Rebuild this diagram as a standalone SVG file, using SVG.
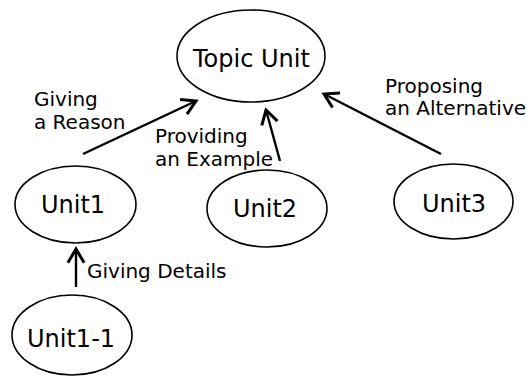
<svg xmlns="http://www.w3.org/2000/svg" width="527" height="376" viewBox="0 0 527 376">
<defs>
<style>
.node ellipse{fill:#fff;stroke:#000;stroke-width:1.6}
.node text{font-family:"DejaVu Sans",sans-serif;font-size:24px;fill:#000}
.lbl{font-family:"DejaVu Sans",sans-serif;font-size:20px;fill:#000}
.edge{stroke:#000;stroke-width:2.4;fill:none;marker-end:url(#ah)}
</style>
<marker id="ah" markerUnits="userSpaceOnUse" markerWidth="20" markerHeight="20" viewBox="-12 -8 14 16" refX="0" refY="0" orient="auto">
<polyline points="-11,-6.5 0,0 -11,6.5" fill="none" stroke="#000" stroke-width="2.4"/>
</marker>
</defs>
<rect width="527" height="376" fill="#fff"/>
<g id="connectors">
<line class="edge" x1="83" y1="154" x2="196" y2="101"/>
<line class="edge" x1="280" y1="161" x2="266" y2="110"/>
<line class="edge" x1="441" y1="154" x2="324" y2="94"/>
<line class="edge" x1="76" y1="287" x2="76" y2="249"/>
<text class="lbl" x="34" y="106">Giving</text>
<text class="lbl" x="34" y="129">a Reason</text>
<text class="lbl" x="155" y="143">Providing</text>
<text class="lbl" x="155" y="166">an Example</text>
<text class="lbl" x="385" y="93">Proposing</text>
<text class="lbl" x="385" y="115">an Alternative</text>
<text class="lbl" x="87" y="278">Giving Details</text>
</g>
<g id="topic" class="node"><ellipse cx="251" cy="56" rx="74" ry="46"/><text x="193" y="67">Topic Unit</text></g>
<g id="unit1" class="node"><ellipse cx="75.5" cy="204.5" rx="60.5" ry="38.5"/><text x="41" y="213">Unit1</text></g>
<g id="unit2" class="node"><ellipse cx="267" cy="208.5" rx="60" ry="38.5"/><text x="233" y="217">Unit2</text></g>
<g id="unit3" class="node"><ellipse cx="453.5" cy="201.5" rx="59.5" ry="37.5"/><text x="422" y="212">Unit3</text></g>
<g id="unit1-1" class="node"><ellipse cx="72" cy="335" rx="60" ry="40"/><text x="27" y="347">Unit1-1</text></g>
</svg>
